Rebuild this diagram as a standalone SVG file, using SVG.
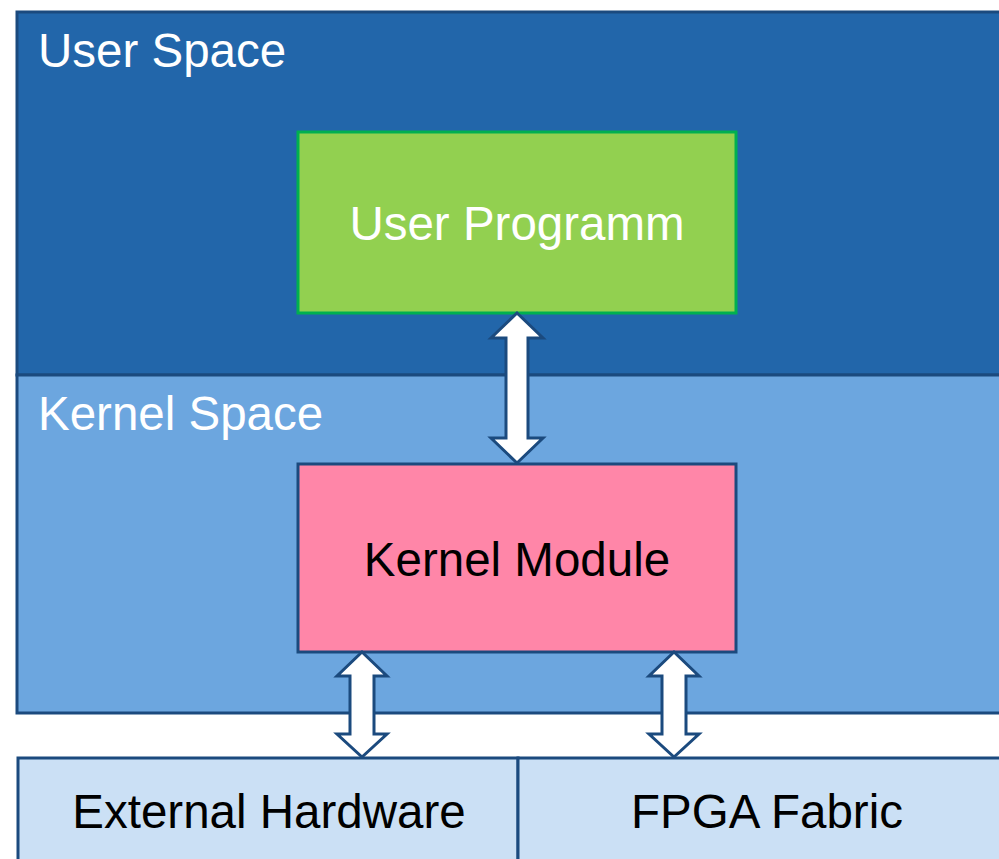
<svg xmlns="http://www.w3.org/2000/svg" width="999" height="859" viewBox="0 0 999 859">
<style>
.lbl{font-family:"Liberation Sans",Arial,sans-serif;font-size:47.5px}
.w{fill:#ffffff}
.k{fill:#000000}
.arr{fill:#ffffff;stroke:#1b4a7e;stroke-width:3;stroke-linejoin:miter}
</style>
<rect width="999" height="859" fill="#ffffff"/>
<g id="user-space">
<rect x="17" y="12" width="990" height="363" fill="#2266aa" stroke="#1b4a7e" stroke-width="3"/>
<text class="lbl w" x="38" y="67">User Space</text>
</g>
<g id="kernel-space">
<rect x="17" y="375" width="990" height="338" fill="#6ca6df" stroke="#1b4a7e" stroke-width="3"/>
<text class="lbl w" x="38" y="430">Kernel Space</text>
</g>
<g id="user-programm">
<rect x="298" y="132" width="438" height="181" fill="#92d050" stroke="#00b050" stroke-width="3"/>
<text class="lbl w" x="517" y="240" text-anchor="middle">User Programm</text>
</g>
<g id="kernel-module">
<rect x="298" y="464" width="438" height="188" fill="#ff86a8" stroke="#1b4a7e" stroke-width="3"/>
<text class="lbl k" x="517" y="576" text-anchor="middle">Kernel Module</text>
</g>
<g id="external-hardware">
<rect x="18" y="758" width="500" height="110" fill="#cbe0f5" stroke="#1b4a7e" stroke-width="3"/>
<text class="lbl k" x="269" y="828" text-anchor="middle">External Hardware</text>
</g>
<g id="fpga-fabric">
<rect x="518" y="758" width="490" height="110" fill="#cbe0f5" stroke="#1b4a7e" stroke-width="3"/>
<text class="lbl k" x="767" y="828" text-anchor="middle">FPGA Fabric</text>
</g>
<g id="connectors">
<polygon class="arr" points="517,313 543,338 528,338 528,438 543,438 517,463 491,438 506,438 506,338 491,338"/>
<polygon class="arr" points="362,652 387,676 374,676 374,734 387,734 362,757 337,734 350,734 350,676 337,676"/>
<polygon class="arr" points="674,652 699,676 686,676 686,734 699,734 674,757 649,734 662,734 662,676 649,676"/>
</g>
</svg>
